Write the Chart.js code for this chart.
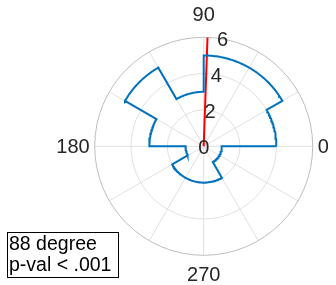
<!DOCTYPE html>
<html>
<head>
<meta charset="utf-8">
<script src="https://cdn.jsdelivr.net/npm/chart.js@4.4.1/dist/chart.umd.min.js"></script>
<style>
html,body{margin:0;padding:0;background:#fff;}
#wrap{position:relative;width:336px;height:285px;}
</style>
</head>
<body>
<div id="wrap"><canvas id="c" width="336" height="285"></canvas></div>
<script>
// ---- data ----
const binEdgesDeg = [0,30,60,90,120,150,180,210,240,270,300,330,360];
const binCounts   = [4,5,5,3,5,3,1,2,2,2,1,1];
const meanAngleDeg = 88;
const meanLineLength = 6;
const radialTicks = [0,2,4,6];
const spokeAnglesDeg = [0,30,60,90,120,150,180,210,240,270,300,330];
const angleLabelValues = [0,90,180,270];
const annotationLines = ['88 degree','p-val < .001'];
const rMax = 6;
const radialLabelAngleDeg = 80;

const rad = d => d*Math.PI/180;
function polar(r, deg){ return {x: r*Math.cos(rad(deg)), y: r*Math.sin(rad(deg))}; }

// stairs outline from bins
const outline = [];
for (let i=0;i<binCounts.length;i++){
  const a0 = binEdgesDeg[i], a1 = binEdgesDeg[i+1];
  for (let a=a0; a<=a1; a+=1) outline.push(polar(binCounts[i], a));
}
outline.push(polar(binCounts[0], binEdgesDeg[0]));

const meanLine = [polar(0, meanAngleDeg), polar(meanLineLength, meanAngleDeg)];

const FONT = '"Liberation Sans", Arial, Helvetica, sans-serif';
const TXT = '#262626';

const polarGrid = {
  id:'polarGrid',
  beforeDatasetsDraw(chart){
    const {ctx, scales:{x,y}} = chart;
    const cx = x.getPixelForValue(0), cy = y.getPixelForValue(0);
    const pr = r => x.getPixelForValue(r) - cx;
    ctx.save();
    ctx.lineWidth = 1;
    ctx.strokeStyle = '#e0e0e0';
    spokeAnglesDeg.forEach(a=>{
      const p = polar(rMax, a);
      ctx.beginPath();
      ctx.moveTo(cx, cy);
      ctx.lineTo(x.getPixelForValue(p.x), y.getPixelForValue(p.y));
      ctx.stroke();
    });
    radialTicks.forEach(r=>{
      if (r<=0 || r>=rMax) return;
      ctx.beginPath(); ctx.arc(cx, cy, pr(r), 0, Math.PI*2); ctx.stroke();
    });
    ctx.strokeStyle = '#bdbdbd';
    ctx.beginPath(); ctx.arc(cx, cy, pr(rMax), 0, Math.PI*2); ctx.stroke();
    ctx.restore();
  },
  afterDatasetsDraw(chart){
    const {ctx, scales:{x,y}} = chart;
    const cx = x.getPixelForValue(0), cy = y.getPixelForValue(0);
    const R = x.getPixelForValue(rMax) - cx;
    ctx.save();
    ctx.fillStyle = TXT;
    ctx.font = '20px ' + FONT;
    // radial tick labels
    ctx.textAlign = 'center'; ctx.textBaseline = 'middle';
    radialTicks.forEach(r=>{
      const p = polar(r, radialLabelAngleDeg);
      ctx.fillText(String(r), x.getPixelForValue(p.x), y.getPixelForValue(p.y)+2);
    });
    // angle labels
    angleLabelValues.forEach(a=>{
      const t = String(a);
      if (a===0){ ctx.textAlign='left'; ctx.textBaseline='middle'; ctx.fillText(t, cx+R+5, cy+1); }
      else if (a===180){ ctx.textAlign='right'; ctx.textBaseline='middle'; ctx.fillText(t, cx-R-5, cy+1); }
      else if (a===90){ ctx.textAlign='center'; ctx.textBaseline='middle'; ctx.fillText(t, cx, cy-R-22); }
      else { ctx.textAlign='center'; ctx.textBaseline='middle'; ctx.fillText(t, cx, cy+R+20); }
    });
    // annotation box
    ctx.fillStyle = '#fff';
    ctx.fillRect(7.5, 232.5, 111, 45);
    ctx.strokeStyle = '#000'; ctx.lineWidth = 1;
    ctx.strokeRect(7.5, 232.5, 111, 45);
    ctx.fillStyle = '#000';
    ctx.textAlign = 'left'; ctx.textBaseline = 'middle';
    ctx.font = '19.5px ' + FONT;
    ctx.fillText(annotationLines[0], 9, 245);
    ctx.fillText(annotationLines[1], 9, 265.5);
    ctx.restore();
  }
};

new Chart(document.getElementById('c'), {
  type:'scatter',
  data:{
    datasets:[
      {data: outline, showLine:true, borderColor:'#0072BD', borderWidth:2, pointRadius:0, tension:0, fill:false, borderJoinStyle:'miter'},
      {data: meanLine, showLine:true, borderColor:'#FF0000', borderWidth:2, pointRadius:0, fill:false}
    ]
  },
  options:{
    responsive:false,
    animation:false,
    events:[],
    layout:{padding:{left:94.7, right:23.3, top:37.3, bottom:29.7}},
    plugins:{legend:{display:false}, tooltip:{enabled:false}},
    scales:{
      x:{type:'linear', min:-rMax, max:rMax, display:false},
      y:{type:'linear', min:-rMax, max:rMax, display:false}
    }
  },
  plugins:[polarGrid]
});
</script>
</body>
</html>
